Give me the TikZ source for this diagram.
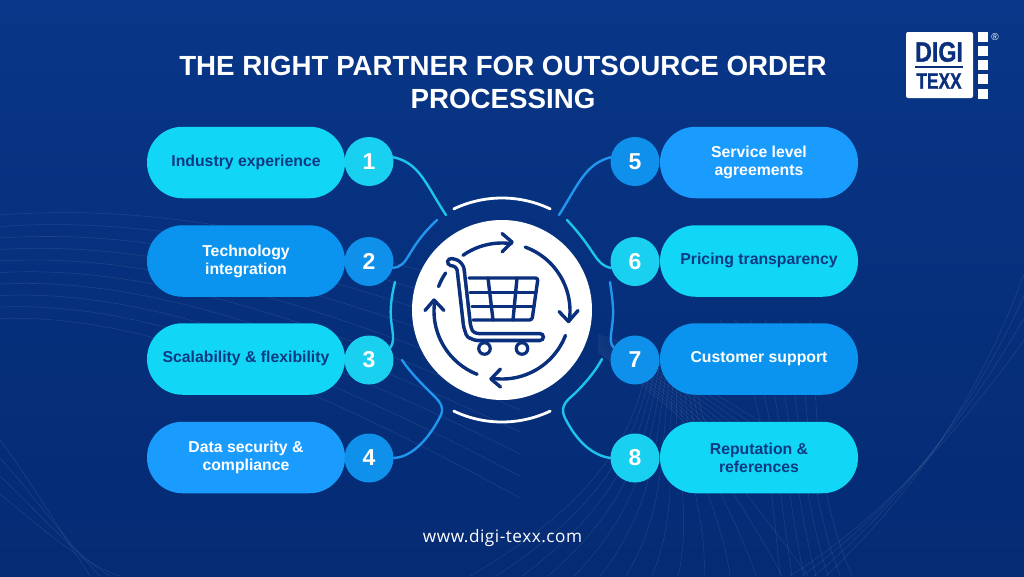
\documentclass[tikz,border=0pt]{standalone}
\usepackage{fontspec}
\setmainfont{Liberation Sans}
\newfontfamily\webfont[LetterSpace=3]{Open Sans}
\newfontfamily\logofont[FakeBold=1.2]{Liberation Sans Bold}
\definecolor{navy}{HTML}{0A2F7C}
\definecolor{textnavy}{HTML}{0B3A82}
\definecolor{cyanpill}{HTML}{12D6F5}
\definecolor{bluepillA}{HTML}{0A94F0}
\definecolor{bluepillB}{HTML}{1A9CFF}
\definecolor{cyanring}{HTML}{1AD0F0}
\definecolor{bluering}{HTML}{0F90EA}
\definecolor{cyanline}{HTML}{1CC4EE}
\definecolor{blueline}{HTML}{2196EE}
\definecolor{bgtop}{HTML}{093688}
\definecolor{bgmid}{HTML}{06307C}
\definecolor{bgbot}{HTML}{052B74}
\tikzset{
  x=1pt,y=-1pt,
  pill/.style={rounded corners=35.5pt,minimum width=198pt,minimum height=71.5pt,inner sep=0pt,align=center,font=\bfseries\fontsize{15.8}{18}\selectfont},
  cyanpl/.style={pill,fill=cyanpill,text=textnavy},
  blueA/.style={pill,fill=bluepillA,text=white},
  blueB/.style={pill,fill=bluepillB,text=white},
  num/.style={circle,minimum size=49pt,inner sep=0pt,text=white,font=\bfseries\fontsize{23}{23}\selectfont},
  conn/.style={line width=2.4pt,line cap=round},
  cartline/.style={draw=navy,line width=3.4pt,line cap=round,line join=round},
  ringline/.style={draw=navy,line width=3.4pt,line cap=round,line join=round},
  bgline/.style={draw=white,line width=.6pt,opacity=.09},
  meshline/.style={draw=white,line width=.5pt,opacity=.10},
  halo/.style={draw=white,line width=2.8pt,line cap=round},
}
\begin{document}
\begin{tikzpicture}
\useasboundingbox (0,0) rectangle (1024,576);
\shade[top color=bgtop,bottom color=bgbot,middle color=bgmid] (0,0) rectangle (1024,576);
\clip (0,0) rectangle (1024,576);
% background curves, left
\foreach \i in {0,...,9}{
  \draw[bgline] (0,{215+\i*11.5}) .. controls (110,{207+\i*12}) and ({250},{215+\i*15}) .. (520,{300+\i*22});
}
\foreach \i in {0,...,3}{
  \draw[bgline] (0,{440+\i*18}) .. controls ({30+\i*4},{480+\i*16}) and ({60+\i*5},{530+\i*10}) .. ({90+\i*10},576);
}
% background mesh, right
\foreach \i in {0,...,11}{
  \draw[meshline] (598,{335+\i*1.5}) .. controls ({640+\i*3},{345+\i*6}) and ({700+\i*2},{385+\i*5}) .. ({790-\i*9},{440+\i*3});
}
\foreach \i in {0,...,13}{
  \draw[meshline] ({650+\i*4},{345+\i*1}) .. controls ({640+\i*3},{430}) and ({600+\i*12},{500}) .. ({470+\i*26},576);
}
\foreach \i in {0,...,6}{
  \draw[bgline] ({720+\i*15},320) .. controls ({760+\i*10},370) and ({770+\i*6},470) .. ({780+\i*12},576);
}
\foreach \i in {0,...,3}{
  \draw[bgline] ({790+\i*12},576) .. controls ({880+\i*10},{520-\i*8}) and ({960+\i*5},{430-\i*8}) .. (1024,{340-\i*22});
}
% title
\node[text=white,font=\bfseries\fontsize{27.7}{33}\selectfont,align=center] (title) at (503,82) {THE RIGHT PARTNER FOR OUTSOURCE ORDER\\PROCESSING};
% logo
\node[fill=white,rounded corners=2pt,minimum width=67pt,minimum height=66pt,inner sep=0pt] (logo) at (939.5,65) {};
\foreach \yy/\nn in {37/a,51/b,65/c,79/d,94/e}{
  \node[fill=white,minimum width=10pt,minimum height=10pt,inner sep=0pt] (sq\nn) at (983,\yy) {};
}
\node[text=white,font=\fontsize{10}{10}\selectfont,inner sep=0pt] (reg) at (995,37) {®};
\node[text=navy,font=\logofont\fontsize{28}{28}\selectfont,inner sep=0pt] (digi) at (939,52) {\scalebox{.83}[1]{DIGI}};
\node[text=navy,font=\logofont\fontsize{22.5}{22.5}\selectfont,inner sep=0pt] (texx) at (939,81) {\scalebox{.77}[1]{TEXX}};
\coordinate (lineL) at (915,67); \coordinate (lineR) at (963,67);
\draw[navy,line width=1.6pt] (lineL) -- (lineR);
% pills
\node[cyanpl] (p1) at (246,162.5) {\raisebox{3pt}{Industry experience}};
\node[blueA]  (p2) at (246,261)   {Technology\\integration};
\node[cyanpl] (p3) at (246,359)   {\raisebox{3.5pt}{Scalability \& flexibility}};
\node[blueB]  (p4) at (246,457.5) {Data security \&\\compliance};
\node[blueB]  (p5) at (759,162.5) {Service level\\agreements};
\node[cyanpl] (p6) at (759,261)   {\raisebox{3.5pt}{Pricing transparency}};
\node[blueA]  (p7) at (759,359)   {\raisebox{3.5pt}{Customer support}};
\node[cyanpl] (p8) at (759,457.5) {Reputation \&\\references};
% circles
\node[num,fill=cyanring] (c1) at (369,161.5) {1};
\node[num,fill=bluering] (c2) at (369,261.5) {2};
\node[num,fill=cyanring] (c3) at (369,360)   {3};
\node[num,fill=bluering] (c4) at (369,458)   {4};
\node[num,fill=bluering] (c5) at (635,161.5) {5};
\node[num,fill=cyanring] (c6) at (635,261.5) {6};
\node[num,fill=bluering] (c7) at (635,360)   {7};
\node[num,fill=cyanring] (c8) at (635,458)   {8};
% hub
\node[circle,fill=white,minimum size=180pt,inner sep=0pt] (hub) at (502,310) {};
% connector free ends
\coordinate (e1) at (446,215); \coordinate (e2) at (437,220);
\coordinate (e3) at (395,282); \coordinate (e4) at (402,360);
\coordinate (e5) at (559,215); \coordinate (e6) at (567,220);
\coordinate (e7) at (610,282); \coordinate (e8) at (602,359);
\draw[conn,cyanline] (c1.10) .. controls (420,163) and (426,185) .. (e1);
\draw[conn,blueline] (c2.-15) .. controls (410,266) and (405,250) .. (e2);
\draw[conn,cyanline] (c3.30) .. controls (397,338) and (389,325) .. (391,305) .. controls (391.5,298) and (393,290) .. (e3);
\draw[conn,blueline] (c4.east) .. controls (413,457) and (430,437) .. (441,415) .. controls (445,405) and (437,399) .. (430,392) .. controls (420,382) and (410,372) .. (e4);
\draw[conn,blueline] (c5.170) .. controls (585,164) and (578,185) .. (e5);
\draw[conn,cyanline] (c6.195) .. controls (595,265) and (597,252) .. (e6);
\draw[conn,blueline] (c7.150) .. controls (607,340) and (614,328) .. (613,308) .. controls (612.5,298) and (611,290) .. (e7);
\draw[conn,cyanline] (c8.west) .. controls (590,455) and (575,438) .. (565,418) .. controls (560,408) and (565,402) .. (572,396) .. controls (583,386) and (595,372) .. (e8);
% halo arcs
\draw[halo] plot[domain=115.5:64.5,samples=30] ({502+112*cos(\x)},{310-112*sin(\x)});
\draw[halo] plot[domain=244.5:295.5,samples=30] ({502+112*cos(\x)},{310-112*sin(\x)});
% ring arrows
\draw[ringline] plot[domain=125:82,samples=24] ({502+68*cos(\x)},{311-68*sin(\x)});
\draw[ringline] (502,233.5) -- (512,242) -- (502,252);
\draw[ringline] plot[domain=70:-8,samples=30] ({502+68*cos(\x)},{311-68*sin(\x)});
\draw[ringline] (559,311.5) -- (568.5,321.5) -- (578,310.5);
\draw[ringline] plot[domain=-21:-99,samples=30] ({502+68*cos(\x)},{311-68*sin(\x)});
\draw[ringline] (500.5,369) -- (491,379) -- (500.5,387);
\draw[ringline] plot[domain=-111.5:-187.5,samples=30] ({502+68*cos(\x)},{311-68*sin(\x)});
\draw[ringline] (425,310.5) -- (434,300) -- (444,310.5);
\draw[ringline] plot[domain=159:146,samples=8] ({502+68*cos(\x)},{311-68*sin(\x)});
% cart
\draw[draw=navy,line width=10.5pt,line cap=round,line join=round,rounded corners=6pt] (451,262) -- (460,264) -- (467.5,330) -- (472,337) -- (540,337);
\draw[draw=white,line width=3.4pt,line cap=round,line join=round,rounded corners=6pt] (451,262) -- (460,264) -- (467.5,330) -- (472,337) -- (540,337);
\draw[cartline,rounded corners=2.5pt] (469,278) -- (538,278) -- (532,320) -- (473,320);
\draw[cartline] (470,292.5) -- (536,292.5);
\draw[cartline] (472,306.5) -- (534,306.5);
\draw[cartline] (488,278) -- (493,320);
\draw[cartline] (517,278) -- (513,320);
\node[circle,draw=navy,line width=3.2pt,fill=white,minimum size=11.5pt,inner sep=0pt] (w1) at (484.5,348.5) {};
\node[circle,draw=navy,line width=3.2pt,fill=white,minimum size=11.5pt,inner sep=0pt] (w2) at (522,348.5) {};
% url
\node[text=white,font=\webfont\fontsize{17.2}{18}\selectfont] (url) at (502.5,538) {www.digi-texx.com};
\end{tikzpicture}
\end{document}
